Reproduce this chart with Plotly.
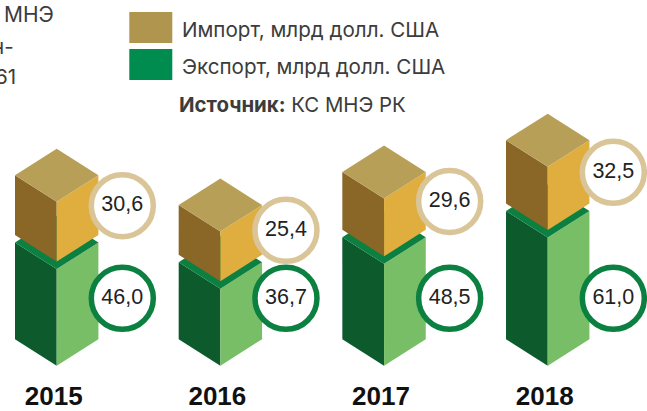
import plotly.graph_objects as go

years = [2015, 2016, 2017, 2018]
export_vals = [46.0, 36.7, 48.5, 61.0]
import_vals = [30.6, 25.4, 29.6, 32.5]
labels_import = ["30,6", "25,4", "29,6", "32,5"]
labels_export = ["46,0", "36,7", "48,5", "61,0"]
legend_import = "Импорт, млрд долл. США"
legend_export = "Экспорт, млрд долл. США"

W, H = 647, 411
BOTTOM = 33
PX_UNIT = 2.1          # pixels per value unit
PX_YEAR = 163.67       # pixels per year
BASE_PX = 365.7
X0_PX = 56.7
IMPORT_K = 0.93        # picture draws the import blocks slightly flatter
HALF = 41.7 / PX_YEAR
RISE = 26.5 / PX_UNIT
GAP = 7.5 / PX_UNIT
BADGE_X = 65.6 / PX_YEAR
BADGE_UP = 26 / PX_UNIT
EXPORT_BADGE_Y = 32.1

C_GOLD_TOP, C_GOLD_L, C_GOLD_R = "#B89F58", "#8A6627", "#E0AE3F"
C_GREEN_TOP, C_GREEN_L, C_GREEN_R = "#0B8040", "#0D5A2D", "#77BE66"
C_RING_GOLD, C_RING_GREEN = "#D9C597", "#0B8040"
C_TEXT = "#3C3C3C"
FONT = "Liberation Sans"
FONT_NOTE = "Inter"

fig = go.Figure()


def face(xs, ys, color):
    fig.add_trace(go.Scatter(x=xs, y=ys, mode="lines", fill="toself", fillcolor=color,
                             line=dict(width=0, color=color), hoverinfo="skip", showlegend=False))


def block(x, y0, h, top, left, right):
    y1 = y0 + h
    face([x - HALF, x, x, x - HALF, x - HALF], [y0 + RISE, y0, y1, y1 + RISE, y0 + RISE], left)
    face([x, x + HALF, x + HALF, x, x], [y0, y0 + RISE, y1 + RISE, y1, y0], right)
    face([x - HALF, x, x + HALF, x, x - HALF], [y1 + RISE, y1, y1 + RISE, y1 + 2 * RISE, y1 + RISE], top)


gold_badge_y = []
for yr, e, i in zip(years, export_vals, import_vals):
    block(yr, 0, e, C_GREEN_TOP, C_GREEN_L, C_GREEN_R)
    y0 = e + GAP
    h = i * IMPORT_K
    block(yr, y0, h, C_GOLD_TOP, C_GOLD_L, C_GOLD_R)
    gold_badge_y.append(y0 + h / 2 + BADGE_UP)

bx = [y + BADGE_X for y in years]
txt = dict(family=FONT, size=21.5, color="#222222")
fig.add_trace(go.Scatter(x=bx, y=gold_badge_y, mode="markers+text", text=labels_import,
                         textposition="middle center", textfont=txt, hoverinfo="skip", showlegend=False,
                         marker=dict(size=62, color="white", line=dict(width=5.5, color=C_RING_GOLD))))
fig.add_trace(go.Scatter(x=bx, y=[EXPORT_BADGE_Y] * 4, mode="markers+text", text=labels_export,
                         textposition="middle center", textfont=txt, hoverinfo="skip", showlegend=False,
                         marker=dict(size=62, color="white", line=dict(width=5.5, color=C_RING_GREEN))))


def px_x(v):
    return v / W


def px_y(v):
    return 1 - v / (H - BOTTOM)


fig.add_shape(type="rect", xref="paper", yref="paper", x0=px_x(129.3), x1=px_x(172.3), y0=px_y(43), y1=px_y(12),
              fillcolor="#B0954F", line_width=0)
fig.add_shape(type="rect", xref="paper", yref="paper", x0=px_x(129.3), x1=px_x(172.3), y0=px_y(80), y1=px_y(49),
              fillcolor="#008C4F", line_width=0)


def note(text, x, y, anchor="left", size=20.6):
    fig.add_annotation(text=text, xref="paper", yref="paper", x=px_x(x), y=px_y(y), xanchor=anchor, yanchor="middle",
                       showarrow=False, align=anchor, font=dict(family=FONT_NOTE, size=size, color=C_TEXT))


note(legend_import, 180, 30)
note(legend_export, 180, 67)
note("<b>Источник:</b> КС МНЭ РК", 177, 104, size=20.4)
note("МНЭ", 56, 15, anchor="right", size=21)
note("н-", 16, 47, anchor="right")
note("61", 18, 76, anchor="right")

fig.update_layout(
    width=W, height=H, margin=dict(l=0, r=0, t=0, b=BOTTOM),
    paper_bgcolor="white", plot_bgcolor="white", showlegend=False,
    xaxis=dict(range=[years[0] - X0_PX / PX_YEAR, years[0] + (W - X0_PX) / PX_YEAR],
               tickmode="array", tickvals=[y - 3 / PX_YEAR for y in years],
               ticktext=[f"<b>{y}</b>" for y in years], automargin=False,
               ticks="", showgrid=False, zeroline=False, showline=False,
               tickfont=dict(family=FONT, size=26, color="#111111")),
    yaxis=dict(range=[-(H - BOTTOM - BASE_PX) / PX_UNIT, BASE_PX / PX_UNIT], automargin=False,
               visible=False, showgrid=False, zeroline=False),
)

fig.write_html("out.html", config={"displayModeBar": False},
               post_script="document.body.style.margin='0';")
